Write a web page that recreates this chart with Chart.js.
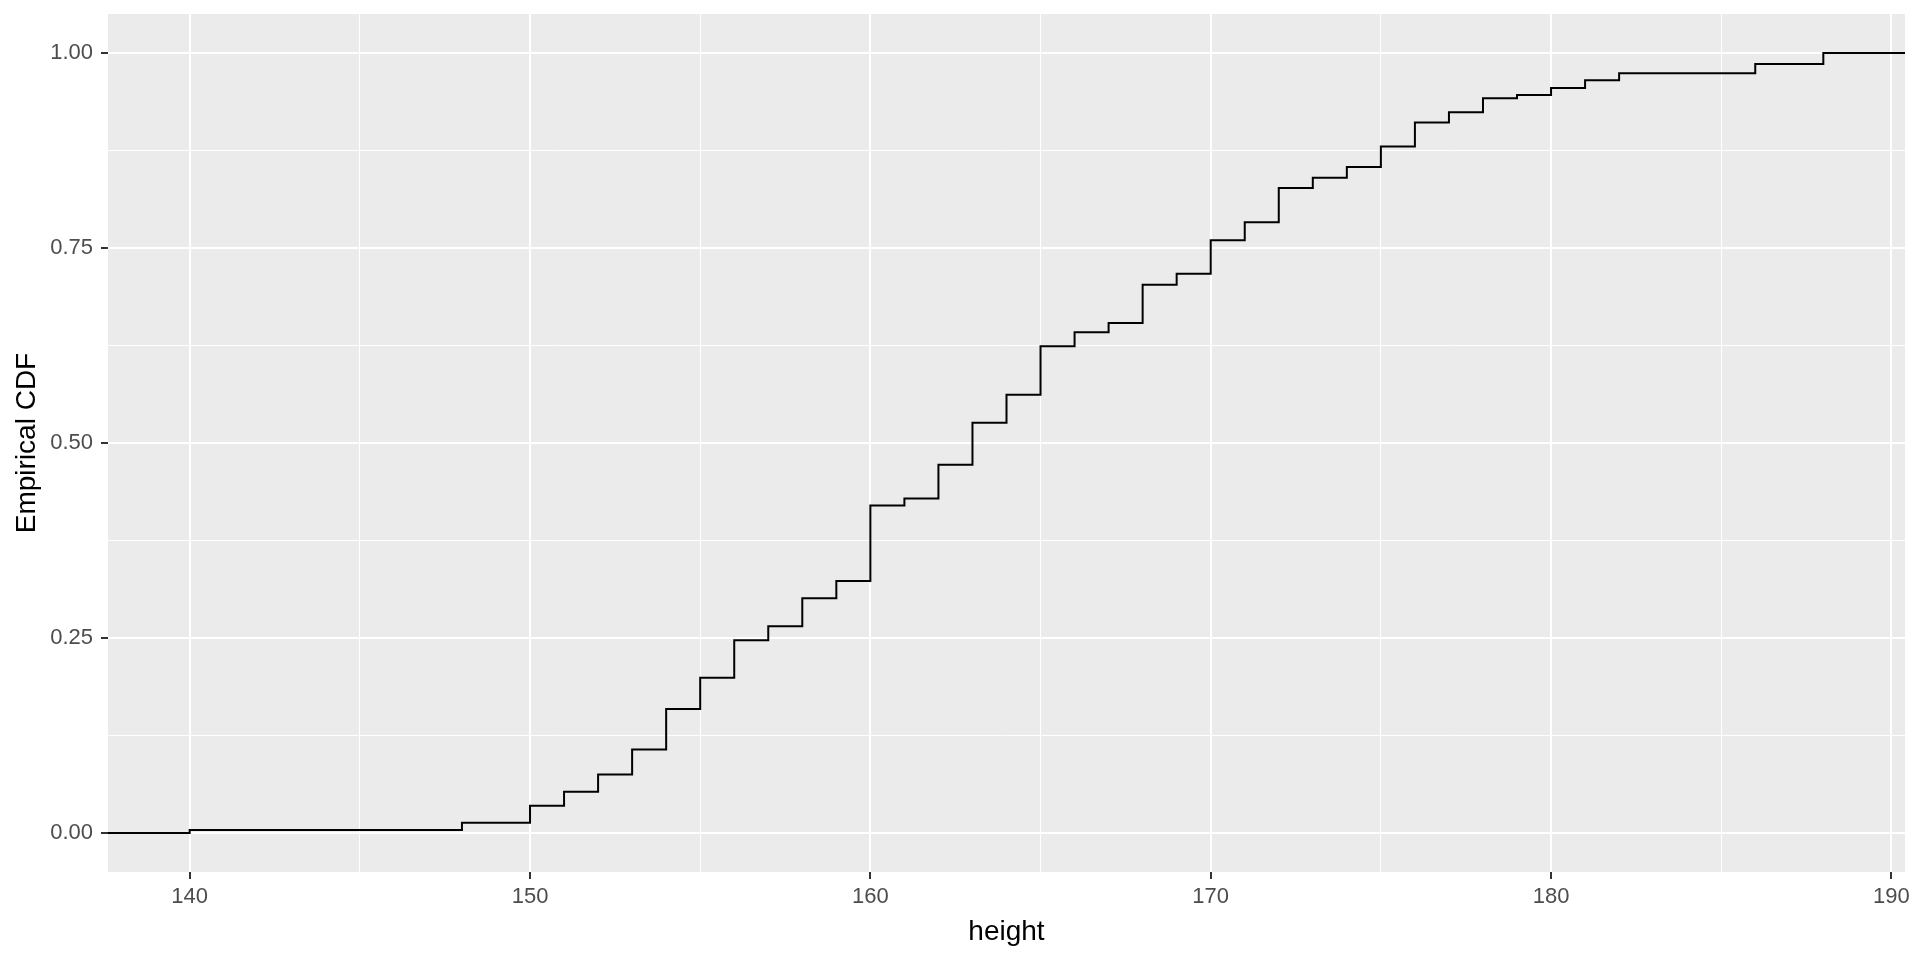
<!DOCTYPE html>
<html>
<head>
<meta charset="utf-8">
<script src="https://cdn.jsdelivr.net/npm/chart.js@4/dist/chart.umd.min.js"></script>
<style>
  html, body { margin: 0; padding: 0; background: #ffffff; }
  #wrap { width: 1920px; height: 960px; position: relative; }
</style>
</head>
<body>
<div id="wrap"><canvas id="ecdfChart"></canvas></div>
<script>
// step positions (height) and the empirical CDF value reached at each one
const heights = [140, 148, 150, 151, 152, 153, 154, 155, 156, 157, 158, 159, 160, 161, 162, 163, 164, 165, 166, 167, 168, 169, 170, 171, 172, 173, 174, 175, 176, 177, 178, 179, 180, 181, 182, 186, 188];
const ecdfValues = [0.004, 0.013, 0.035, 0.053, 0.075, 0.107, 0.159, 0.199, 0.247, 0.265, 0.301, 0.323, 0.420, 0.429, 0.472, 0.526, 0.562, 0.624, 0.642, 0.654, 0.703, 0.717, 0.760, 0.783, 0.827, 0.840, 0.854, 0.880, 0.911, 0.924, 0.942, 0.946, 0.955, 0.965, 0.974, 0.986, 1.000];

// tick marks (major ones get labels, minor ones only a thin grid line)
const xTicks = [140, 145, 150, 155, 160, 165, 170, 175, 180, 185, 190];
const xLabels = [140, 150, 160, 170, 180, 190];
const yTicks = [0, 0.125, 0.25, 0.375, 0.5, 0.625, 0.75, 0.875, 1];
const yLabels = [0, 0.25, 0.5, 0.75, 1];

// ggplot style 5% expansion of the data range
const xSpan = heights[heights.length - 1] - heights[0];
const xMin = heights[0] - 0.05 * xSpan;
const xMax = heights[heights.length - 1] + 0.05 * xSpan;
const yMin = -0.05;
const yMax = 1.05;

// ecdf is padded at -Inf / +Inf like stat_ecdf does
const points = [{ x: xMin, y: 0 }].concat(
    heights.map((h, i) => ({ x: h, y: ecdfValues[i] })),
    [{ x: xMax, y: 1 }]
);

const isMajor = (list, v) => list.some(t => Math.abs(t - v) < 1e-9);

const panelBg = {
    id: 'panelBg',
    beforeDraw(chart) {
        const { ctx, chartArea: a } = chart;
        ctx.save();
        ctx.fillStyle = '#EBEBEB';
        ctx.fillRect(a.left, a.top, a.right - a.left, a.bottom - a.top);
        ctx.restore();
    }
};

const tickFont = { family: "'Liberation Sans', Arial, sans-serif", size: 22 };
const titleFont = { family: "'Liberation Sans', Arial, sans-serif", size: 28 };

new Chart(document.getElementById('ecdfChart'), {
    type: 'line',
    data: {
        datasets: [{
            data: points,
            stepped: 'before',
            borderColor: '#000000',
            borderWidth: 2,
            pointRadius: 0,
            fill: false
        }]
    },
    options: {
        responsive: true,
        maintainAspectRatio: false,
        animation: false,
        layout: { padding: { top: 14, right: 15, left: 0, bottom: 0 } },
        plugins: {
            legend: { display: false },
            tooltip: { enabled: false }
        },
        scales: {
            x: {
                type: 'linear',
                min: xMin,
                max: xMax,
                afterBuildTicks: (scale) => { scale.ticks = xTicks.map(v => ({ value: v })); },
                afterFit: (scale) => {
                    scale.height = 88;
                    scale.paddingLeft = 0;
                    scale.paddingRight = 0;
                },
                border: { display: false },
                grid: {
                    color: '#FFFFFF',
                    lineWidth: (c) => isMajor(xLabels, c.tick.value) ? 2 : 1,
                    tickLength: 7,
                    tickWidth: 2,
                    tickColor: (c) => isMajor(xLabels, c.tick.value) ? '#333333' : 'rgba(0,0,0,0)'
                },
                ticks: {
                    autoSkip: false,
                    maxRotation: 0,
                    padding: 5,
                    color: '#4D4D4D',
                    font: tickFont,
                    callback: (v) => isMajor(xLabels, v) ? String(v) : ''
                },
                title: {
                    display: true,
                    text: 'height',
                    color: '#000000',
                    font: titleFont,
                    padding: { top: 0, bottom: 11 }
                }
            },
            y: {
                type: 'linear',
                min: yMin,
                max: yMax,
                afterBuildTicks: (scale) => { scale.ticks = yTicks.map(v => ({ value: v })); },
                afterFit: (scale) => {
                    scale.width = 108;
                    scale.paddingTop = 0;
                    scale.paddingBottom = 0;
                },
                border: { display: false },
                grid: {
                    color: '#FFFFFF',
                    lineWidth: (c) => isMajor(yLabels, c.tick.value) ? 2 : 1,
                    tickLength: 7,
                    tickWidth: 2,
                    tickColor: (c) => isMajor(yLabels, c.tick.value) ? '#333333' : 'rgba(0,0,0,0)'
                },
                ticks: {
                    autoSkip: false,
                    padding: 8,
                    color: '#4D4D4D',
                    font: tickFont,
                    callback: (v) => isMajor(yLabels, v) ? Number(v).toFixed(2) : ''
                },
                title: {
                    display: true,
                    text: 'Empirical CDF',
                    color: '#000000',
                    font: titleFont,
                    padding: { top: 10, bottom: 0 }
                }
            }
        }
    },
    plugins: [panelBg]
});
</script>
</body>
</html>
